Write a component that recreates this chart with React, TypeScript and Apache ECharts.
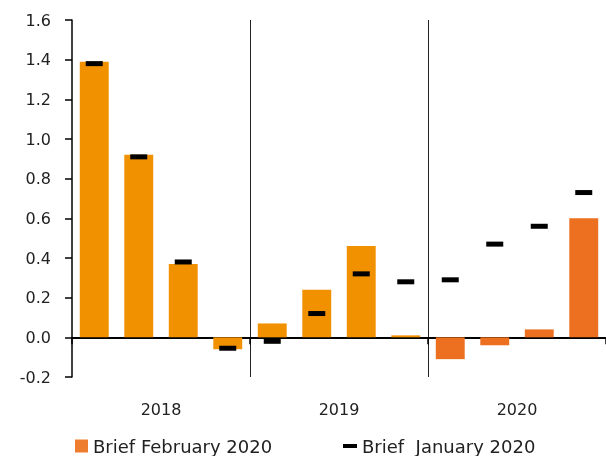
import React, { useEffect, useRef } from "react";
import * as echarts from "echarts";

const quarters = ["2018Q1","2018Q2","2018Q3","2018Q4","2019Q1","2019Q2","2019Q3","2019Q4","2020Q1","2020Q2","2020Q3","2020Q4"];
const years = ["2018", "2019", "2020"];
const febValues = [1.39, 0.92, 0.37, -0.06, 0.07, 0.24, 0.46, 0.01, -0.11, -0.04, 0.04, 0.60];
const janValues = [1.38, 0.91, 0.38, -0.055, -0.02, 0.12, 0.32, 0.28, 0.29, 0.47, 0.56, 0.73];
const seriesNames = ["Brief February 2020", "Brief  January 2020"];

const COLOR_OLD = "#F29100";
const COLOR_NEW = "#EC701F";
const FONT = "DejaVu Sans";

export default function App() {
  const ref = useRef<HTMLDivElement>(null);
  useEffect(() => {
    if (!ref.current) return;
    const chart = echarts.init(ref.current, null, { renderer: "svg" });
    chart.setOption({
      animation: false,
      textStyle: { fontFamily: FONT },
      grid: { left: 72, right: 0, top: 20, bottom: 79, containLabel: false },
      legend: [
        {
          data: [seriesNames[0]],
          left: 70,
          top: 432,
          itemWidth: 13,
          itemHeight: 13,
          icon: "rect",
          textStyle: { fontSize: 18, color: "#222", fontFamily: FONT },
          itemStyle: { color: "#EE7D30" },
        },
        {
          data: [seriesNames[1]],
          left: 338,
          top: 432,
          itemWidth: 14,
          itemHeight: 4,
          icon: "rect",
          textStyle: { fontSize: 18, color: "#222", fontFamily: FONT },
          itemStyle: { color: "#000", opacity: 1 },
        },
      ],
      xAxis: [
        {
          type: "category",
          data: quarters,
          axisLine: { onZero: true, lineStyle: { color: "#000", width: 2 } },
          axisTick: { show: true, interval: (i: number) => i % 4 === 0 && i < 12, length: 7, lineStyle: { color: "#000", width: 1.5 } },
          axisLabel: { show: false },
          splitLine: { show: false },
        },
        {
          type: "category",
          data: years,
          position: "bottom",
          axisLine: { show: false },
          axisTick: { show: false },
          axisLabel: { show: true, margin: 24, fontSize: 16, color: "#222", fontFamily: FONT },
          splitLine: {
            show: true,
            interval: (i: number) => i === 1 || i === 2,
            lineStyle: { color: "#222", width: 1 },
          },
        },
      ],
      yAxis: {
        type: "value",
        min: -0.2,
        max: 1.6,
        interval: 0.2,
        axisLine: { show: true, lineStyle: { color: "#000", width: 1.5 } },
        axisTick: { show: true, length: 7, lineStyle: { color: "#000", width: 1.5 } },
        axisLabel: { formatter: (v: number) => v.toFixed(1), fontSize: 16, color: "#222", margin: 21, fontFamily: FONT },
        splitLine: { show: false },
      },
      series: [
        {
          name: seriesNames[0],
          type: "bar",
          barWidth: "65%",
          itemStyle: { color: "#EE7D30" },
          data: febValues.map((v, i) => ({ value: v, itemStyle: { color: i < 8 ? COLOR_OLD : COLOR_NEW } })),
        },
        {
          name: seriesNames[1],
          type: "scatter",
          symbol: "rect",
          symbolSize: [17, 5],
          itemStyle: { color: "#000", opacity: 1 },
          z: 5,
          data: janValues,
        },
      ],
    });
    return () => chart.dispose();
  }, []);
  return <div ref={ref} style={{ position: "fixed", left: 0, top: 0, width: 606, height: 456 }} />;
}
